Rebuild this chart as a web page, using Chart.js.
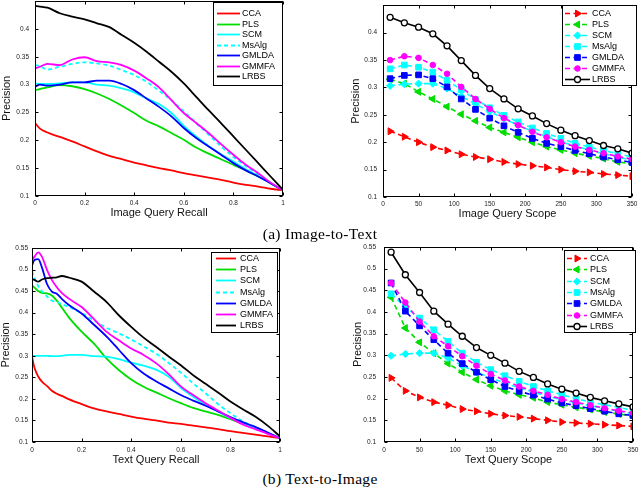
<!DOCTYPE html>
<html><head><meta charset="utf-8">
<script src="https://cdn.jsdelivr.net/npm/chart.js@4/dist/chart.umd.min.js"></script>
<style>
html,body{margin:0;padding:0;background:#fff}
body{width:640px;height:488px;overflow:hidden;position:relative}
canvas{position:absolute}
.cap{position:absolute;left:320px;transform:translateX(-50%);font-family:"Liberation Serif","DejaVu Serif",serif;font-size:15.5px;letter-spacing:0.3px;line-height:1;white-space:nowrap;color:#000}
</style></head><body>
<canvas id="cA1" width="320" height="228" style="left:0px;top:0px"></canvas>
<canvas id="cA2" width="320" height="228" style="left:320px;top:0px"></canvas>
<canvas id="cB1" width="320" height="228" style="left:0px;top:240px"></canvas>
<canvas id="cB2" width="320" height="228" style="left:320px;top:240px"></canvas>
<div class="cap" style="top:226px">(a) Image-to-Text</div>
<div class="cap" style="top:471px">(b) Text-to-Image</div>
<script>
// ---------- data ----------
const methods = ['CCA','PLS','SCM','MsAlg','GMLDA','GMMFA','LRBS'];

const recallImg = [0,0.02,0.05,0.1,0.15,0.2,0.25,0.3,0.35,0.4,0.45,0.5,0.55,0.6,0.65,0.7,0.75,0.8,0.85,0.9,0.95,1];
const imgPR_CCA   = [0.231,0.221,0.214,0.206,0.198,0.189,0.180,0.172,0.166,0.160,0.155,0.150,0.146,0.141,0.137,0.133,0.129,0.124,0.120,0.117,0.113,0.110];
const imgPR_PLS   = [0.290,0.292,0.295,0.299,0.297,0.292,0.284,0.274,0.262,0.249,0.235,0.225,0.213,0.201,0.187,0.176,0.166,0.156,0.146,0.135,0.123,0.110];
const imgPR_SCM   = [0.302,0.301,0.301,0.302,0.304,0.304,0.300,0.298,0.293,0.286,0.275,0.265,0.249,0.226,0.207,0.190,0.175,0.162,0.148,0.136,0.123,0.110];
const imgPR_MsAlg = [0.335,0.333,0.327,0.332,0.337,0.340,0.338,0.334,0.326,0.317,0.305,0.289,0.272,0.252,0.231,0.210,0.189,0.170,0.154,0.139,0.124,0.110];
const imgPR_GMLDA = [0.296,0.300,0.298,0.300,0.304,0.304,0.307,0.307,0.301,0.290,0.275,0.260,0.243,0.222,0.204,0.189,0.174,0.159,0.146,0.135,0.123,0.110];
const imgPR_GMMFA = [0.329,0.332,0.337,0.335,0.345,0.349,0.342,0.340,0.335,0.325,0.311,0.295,0.272,0.249,0.231,0.213,0.193,0.174,0.156,0.141,0.124,0.110];
const imgPR_LRBS  = [0.441,0.440,0.438,0.428,0.422,0.417,0.410,0.403,0.389,0.375,0.359,0.341,0.323,0.302,0.278,0.254,0.231,0.207,0.183,0.159,0.135,0.111];

const recallTxt = [0,0.01,0.025,0.04,0.06,0.08,0.1,0.12,0.15,0.2,0.25,0.3,0.35,0.4,0.45,0.5,0.55,0.6,0.65,0.7,0.75,0.8,0.85,0.9,0.95,1];
const txtPR_CCA   = [0.298,0.272,0.252,0.240,0.230,0.219,0.212,0.207,0.199,0.188,0.178,0.171,0.165,0.159,0.154,0.150,0.145,0.142,0.138,0.134,0.130,0.125,0.121,0.117,0.113,0.109];
const txtPR_PLS   = [0.463,0.458,0.450,0.446,0.445,0.440,0.428,0.412,0.388,0.356,0.328,0.294,0.267,0.245,0.228,0.215,0.202,0.190,0.179,0.171,0.163,0.153,0.142,0.132,0.121,0.109];
const txtPR_SCM   = [0.300,0.300,0.300,0.300,0.300,0.299,0.299,0.300,0.302,0.302,0.299,0.298,0.292,0.284,0.277,0.268,0.252,0.226,0.205,0.186,0.171,0.155,0.144,0.132,0.121,0.109];
const txtPR_MsAlg = [0.497,0.480,0.462,0.450,0.438,0.428,0.425,0.420,0.413,0.399,0.382,0.365,0.352,0.338,0.322,0.305,0.284,0.261,0.236,0.213,0.188,0.167,0.148,0.135,0.121,0.109];
const txtPR_GMLDA = [0.509,0.522,0.524,0.505,0.467,0.449,0.444,0.432,0.417,0.398,0.372,0.345,0.314,0.283,0.259,0.241,0.225,0.209,0.196,0.184,0.171,0.158,0.146,0.135,0.122,0.109];
const txtPR_GMMFA = [0.521,0.530,0.540,0.530,0.500,0.476,0.459,0.446,0.432,0.413,0.385,0.356,0.336,0.317,0.302,0.283,0.258,0.229,0.209,0.190,0.173,0.156,0.141,0.130,0.119,0.109];
const txtPR_LRBS  = [0.478,0.476,0.472,0.477,0.480,0.481,0.482,0.485,0.481,0.472,0.449,0.425,0.394,0.367,0.342,0.321,0.299,0.278,0.255,0.235,0.215,0.194,0.176,0.159,0.138,0.113];

const scope = [10,30,50,70,90,110,130,150,170,190,210,230,250,270,290,310,330,350];
const imgSc_CCA   = [0.220,0.210,0.200,0.191,0.185,0.178,0.173,0.169,0.164,0.160,0.157,0.154,0.150,0.147,0.145,0.142,0.140,0.138];
const imgSc_PLS   = [0.315,0.307,0.292,0.279,0.265,0.251,0.239,0.227,0.218,0.209,0.200,0.192,0.186,0.180,0.175,0.170,0.164,0.161];
const imgSc_SCM   = [0.303,0.306,0.307,0.307,0.298,0.284,0.270,0.256,0.243,0.231,0.220,0.210,0.201,0.193,0.186,0.179,0.173,0.167];
const imgSc_MsAlg = [0.334,0.341,0.337,0.328,0.313,0.296,0.278,0.263,0.249,0.237,0.226,0.216,0.207,0.198,0.191,0.185,0.179,0.173];
const imgSc_GMLDA = [0.316,0.322,0.323,0.316,0.301,0.279,0.260,0.244,0.230,0.218,0.207,0.198,0.192,0.185,0.179,0.173,0.168,0.163];
const imgSc_GMMFA = [0.350,0.357,0.354,0.341,0.325,0.301,0.279,0.261,0.244,0.231,0.219,0.209,0.200,0.192,0.186,0.180,0.174,0.169];
const imgSc_LRBS  = [0.428,0.418,0.410,0.398,0.376,0.349,0.322,0.298,0.279,0.261,0.248,0.234,0.222,0.212,0.203,0.194,0.188,0.180];

const txtSc_CCA   = [0.248,0.218,0.203,0.192,0.185,0.176,0.171,0.165,0.161,0.158,0.154,0.150,0.146,0.144,0.142,0.140,0.138,0.136];
const txtSc_PLS   = [0.434,0.363,0.330,0.305,0.281,0.261,0.244,0.230,0.218,0.209,0.202,0.192,0.186,0.180,0.175,0.169,0.165,0.159];
const txtSc_SCM   = [0.299,0.303,0.305,0.305,0.294,0.276,0.261,0.248,0.236,0.225,0.215,0.205,0.198,0.190,0.184,0.177,0.171,0.165];
const txtSc_MsAlg = [0.442,0.411,0.386,0.359,0.332,0.305,0.284,0.267,0.253,0.240,0.228,0.218,0.209,0.200,0.192,0.186,0.180,0.173];
const txtSc_GMLDA = [0.467,0.402,0.368,0.336,0.305,0.281,0.261,0.244,0.228,0.217,0.208,0.199,0.190,0.184,0.177,0.171,0.165,0.161];
const txtSc_GMMFA = [0.467,0.422,0.378,0.344,0.321,0.298,0.276,0.257,0.242,0.228,0.218,0.209,0.199,0.192,0.185,0.178,0.172,0.167];
const txtSc_LRBS  = [0.538,0.486,0.445,0.402,0.372,0.344,0.318,0.300,0.282,0.263,0.249,0.234,0.222,0.213,0.203,0.195,0.188,0.181];

const ticksRecall = [0,0.2,0.4,0.6,0.8,1];
const ticksScope = [0,50,100,150,200,250,300,350];

// ---------- styles ----------
const fontSans = '"Liberation Sans", Arial, Helvetica, sans-serif';
const colors = ['#ff0000','#00dd00','#00ffff','#00ffff','#0000ff','#ff00ff','#000000'];
const prDash = [[],[],[],[4,3],[],[],[]];
const mk = [
  {style:'triangle', rot:90, r:4, fill:null},
  {style:'triangle', rot:-90, r:4, fill:null},
  {style:'rectRot', rot:0, r:3.6, fill:null},
  {style:'rect', rot:0, r:4, fill:null},
  {style:'rect', rot:0, r:4, fill:null},
  {style:'circle', rot:0, r:2.8, fill:null},
  {style:'circle', rot:0, r:3, fill:'#ffffff'}
];

function prSets(xs, list){
  return list.map((ys,i)=>({
    label: methods[i],
    data: xs.map((x,j)=>({x:x, y:ys[j]})),
    borderColor: colors[i], backgroundColor: colors[i],
    borderWidth: 1.8, borderDash: prDash[i], pointRadius: 0,
    cubicInterpolationMode: 'monotone', order: 10 - i
  }));
}
function scSets(xs, list){
  return list.map((ys,i)=>({
    label: methods[i],
    data: xs.map((x,j)=>({x:x, y:ys[j]})),
    borderColor: colors[i], backgroundColor: colors[i],
    borderWidth: 1.6, borderDash: i===6 ? [] : [5,3.5],
    pointStyle: mk[i].style, rotation: mk[i].rot, pointRadius: mk[i].r,
    pointBorderWidth: i===6 ? 1.3 : 1, pointBorderColor: colors[i],
    pointBackgroundColor: mk[i].fill || colors[i],
    tension: 0, order: 10 - i
  }));
}

const framePlugin = {
  id:'frame',
  afterDatasetsDraw(chart){
    const {ctx, chartArea:a, scales} = chart;
    const L=Math.round(a.left)+0.5, R=Math.round(a.right)-0.5, T=Math.round(a.top)+0.5, B=Math.round(a.bottom)-0.5;
    ctx.save(); ctx.strokeStyle='#000'; ctx.lineWidth=1; ctx.setLineDash([]);
    ctx.strokeRect(L,T,R-L,B-T);
    const tl=3;
    ctx.beginPath();
    scales.x.ticks.forEach(t=>{ const p=Math.round(scales.x.getPixelForValue(t.value))+0.5; ctx.moveTo(p,B); ctx.lineTo(p,B-tl); ctx.moveTo(p,T); ctx.lineTo(p,T+tl); });
    scales.y.ticks.forEach(t=>{ const p=Math.round(scales.y.getPixelForValue(t.value))+0.5; ctx.moveTo(L,p); ctx.lineTo(L+tl,p); ctx.moveTo(R,p); ctx.lineTo(R-tl,p); });
    ctx.stroke(); ctx.restore();
  }
};

function drawMarker(ctx, ds, x, y){
  const o = {pointStyle: ds.pointStyle, rotation: ds.rotation||0, radius: ds.pointRadius, borderWidth: ds.pointBorderWidth||1};
  ctx.fillStyle = ds.pointBackgroundColor; ctx.strokeStyle = ds.pointBorderColor; ctx.lineWidth = o.borderWidth;
  if (Chart.helpers && Chart.helpers.drawPoint) { Chart.helpers.drawPoint(ctx, o, x, y); }
  else { ctx.beginPath(); ctx.arc(x,y,o.radius,0,Math.PI*2); ctx.fill(); ctx.stroke(); }
}

const legendPlugin = {
  id:'boxLegend',
  afterDraw(chart, args, L){
    if (!L || L.w === undefined) return;
    const ctx = chart.ctx;
    ctx.save();
    ctx.fillStyle='#fff'; ctx.fillRect(L.x, L.y, L.w, L.h);
    ctx.strokeStyle='#000'; ctx.lineWidth=1; ctx.setLineDash([]);
    ctx.strokeRect(L.x+0.5, L.y+0.5, L.w, L.h);
    ctx.font = '9px ' + fontSans; ctx.textBaseline='middle'; ctx.textAlign='left';
    chart.data.datasets.forEach((ds,i)=>{
      const y = Math.round(L.row0 + i*L.step) + 0.5;
      ctx.strokeStyle = ds.borderColor; ctx.lineWidth = ds.borderWidth; ctx.setLineDash(ds.borderDash||[]);
      ctx.beginPath(); ctx.moveTo(L.l0, y); ctx.lineTo(L.l1, y); ctx.stroke();
      ctx.setLineDash([]);
      if (ds.pointRadius > 0) drawMarker(ctx, ds, (L.l0+L.l1)/2, y);
      ctx.fillStyle='#000'; ctx.fillText(ds.label, L.tx, y);
    });
    ctx.restore();
  }
};

function fmt(v){ return String(Math.round(v*100)/100); }

function makeChart(id, g, datasets, xr, yr, xTitle, legend){
  return new Chart(document.getElementById(id), {
    type:'line',
    data:{datasets:datasets},
    plugins:[framePlugin, legendPlugin],
    options:{
      responsive:false, animation:false, events:[],
      layout:{padding:{left:g.padL, top:g.padT, right:g.padR, bottom:g.padB}},
      plugins:{legend:{display:false}, tooltip:{enabled:false}, boxLegend: legend},
      scales:{
        x:{type:'linear', min:xr.min, max:xr.max,
           afterBuildTicks(s){ s.ticks = xr.ticks.map(v=>({value:v})); },
           ticks:{autoSkip:false, maxRotation:0, padding:g.xLabelPad, color:'#222', font:{family:fontSans, size:6.5}, callback:(v)=>fmt(v)},
           grid:{display:false, drawTicks:false, tickLength:0}, border:{display:false},
           title:{display:true, text:xTitle, color:'#111', font:{family:fontSans, size:11, lineHeight:1}, padding:{top:0,bottom:0}},
           afterFit(s){ s.height=g.xH; s.paddingLeft=0; s.paddingRight=0; s.paddingTop=0; s.paddingBottom=0; }},
        y:{type:'linear', min:yr.min, max:yr.max,
           afterBuildTicks(s){ s.ticks = yr.ticks.map(v=>({value:v})); },
           ticks:{autoSkip:false, padding:g.yLabelPad, color:'#222', font:{family:fontSans, size:6.5},
                  callback:(v)=> (yr.hide && Math.abs(v-yr.hide)<1e-9) ? '' : fmt(v)},
           grid:{display:false, drawTicks:false, tickLength:0}, border:{display:false},
           title:{display:true, text:'Precision', color:'#111', font:{family:fontSans, size:11, lineHeight:1}, padding:{top:g.yTitlePad,bottom:0}},
           afterFit(s){ s.width=g.yW; s.paddingLeft=0; s.paddingRight=0; s.paddingTop=0; s.paddingBottom=0; }}
      }
    }
  });
}

const yTicksA = [0.1,0.15,0.2,0.25,0.3,0.35,0.4,0.45];
const yTicksB = [0.1,0.15,0.2,0.25,0.3,0.35,0.4,0.45,0.5,0.55];

makeChart('cA1', {padL:0,padT:1,padR:37,padB:9.5,yW:35,xH:22.5,yTitlePad:1.5,yLabelPad:6,xLabelPad:3},
  prSets(recallImg,[imgPR_CCA,imgPR_PLS,imgPR_SCM,imgPR_MsAlg,imgPR_GMLDA,imgPR_GMMFA,imgPR_LRBS]),
  {min:0,max:1,ticks:ticksRecall}, {min:0.1,max:0.45,ticks:yTicksA,hide:0.45}, 'Image Query Recall',
  {x:213,y:2,w:69,h:83,row0:13,step:10.5,l0:217,l1:240,tx:242});

makeChart('cA2', {padL:30,padT:1,padR:8,padB:8.5,yW:33,xH:22.5,yTitlePad:0.5,yLabelPad:6,xLabelPad:3},
  scSets(scope,[imgSc_CCA,imgSc_PLS,imgSc_SCM,imgSc_MsAlg,imgSc_GMLDA,imgSc_GMMFA,imgSc_LRBS]),
  {min:0,max:350,ticks:ticksScope}, {min:0.1,max:0.45,ticks:yTicksA,hide:0.45}, 'Image Query Scope',
  {x:242,y:5,w:74,h:80,row0:13,step:11,l0:245,l1:270,tx:272});

makeChart('cB1', {padL:0,padT:8,padR:40,padB:2.5,yW:32,xH:23.5,yTitlePad:0,yLabelPad:4,xLabelPad:4},
  prSets(recallTxt,[txtPR_CCA,txtPR_PLS,txtPR_SCM,txtPR_MsAlg,txtPR_GMLDA,txtPR_GMMFA,txtPR_LRBS]),
  {min:0,max:1,ticks:ticksRecall}, {min:0.1,max:0.55,ticks:yTicksB}, 'Text Query Recall',
  {x:211,y:12,w:66,h:80,row0:18,step:11.2,l0:216,l1:236,tx:240});

makeChart('cB2', {padL:32.5,padT:7,padR:7,padB:2.5,yW:31.5,xH:23.5,yTitlePad:0,yLabelPad:8,xLabelPad:4},
  scSets(scope,[txtSc_CCA,txtSc_PLS,txtSc_SCM,txtSc_MsAlg,txtSc_GMLDA,txtSc_GMMFA,txtSc_LRBS]),
  {min:0,max:350,ticks:ticksScope}, {min:0.1,max:0.55,ticks:yTicksB}, 'Text Query Scope',
  {x:244,y:10,w:71,h:82,row0:18,step:11.3,l0:247,l1:267,tx:270});
</script>
</body></html>
